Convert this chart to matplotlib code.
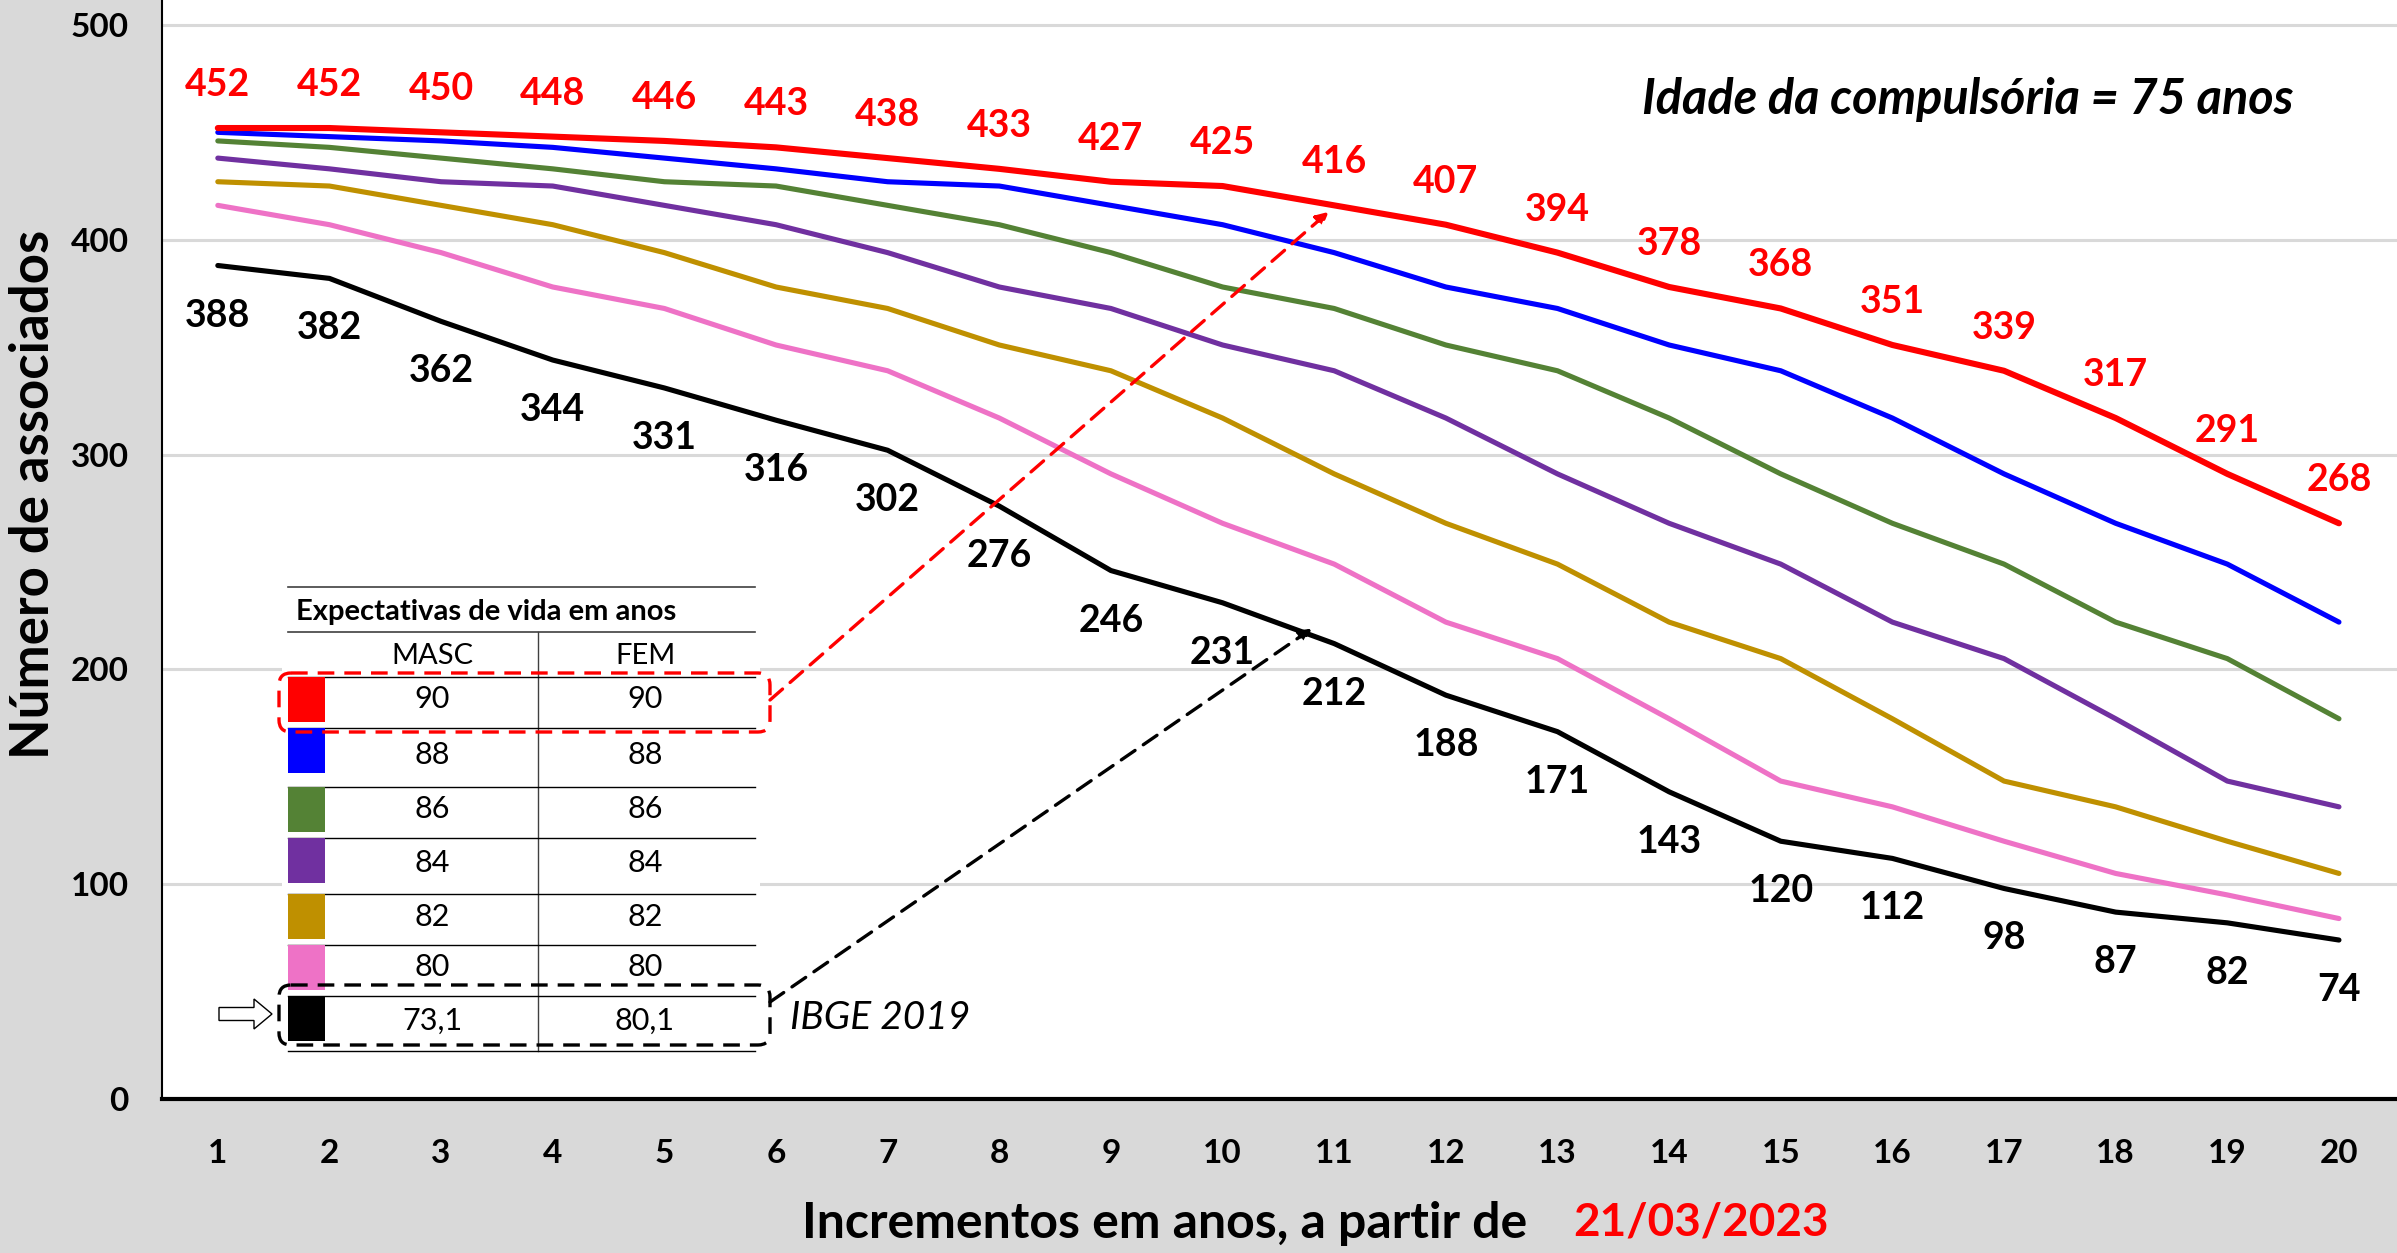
import matplotlib.pyplot as plt
import matplotlib.transforms as mtransforms
from matplotlib.patches import Rectangle, FancyBboxPatch, FancyArrow

plt.rcParams['font.family'] = ['Lato', 'DejaVu Sans']

# dados
anos = list(range(1, 21))

exp_90 = [452, 452, 450, 448, 446, 443, 438, 433, 427, 425, 416, 407, 394, 378, 368, 351, 339, 317, 291, 268]
exp_88 = [450, 448, 446, 443, 438, 433, 427, 425, 416, 407, 394, 378, 368, 351, 339, 317, 291, 268, 249, 222]
exp_86 = [446, 443, 438, 433, 427, 425, 416, 407, 394, 378, 368, 351, 339, 317, 291, 268, 249, 222, 205, 177]
exp_84 = [438, 433, 427, 425, 416, 407, 394, 378, 368, 351, 339, 317, 291, 268, 249, 222, 205, 177, 148, 136]
exp_82 = [427, 425, 416, 407, 394, 378, 368, 351, 339, 317, 291, 268, 249, 222, 205, 177, 148, 136, 120, 105]
exp_80 = [416, 407, 394, 378, 368, 351, 339, 317, 291, 268, 249, 222, 205, 177, 148, 136, 120, 105, 95, 84]
ibge_2019 = [388, 382, 362, 344, 331, 316, 302, 276, 246, 231, 212, 188, 171, 143, 120, 112, 98, 87, 82, 74]

series = [exp_90, exp_88, exp_86, exp_84, exp_82, exp_80, ibge_2019]
cores = ['#FF0000', '#0000FF', '#548235', '#7030A0', '#BF9000', '#EE72C6', '#000000']
masc = ['90', '88', '86', '84', '82', '80', '73,1']
fem = ['90', '88', '86', '84', '82', '80', '80,1']

W, H = 2397, 1253
fig = plt.figure(figsize=(W / 100, H / 100), dpi=100, facecolor='#D9D9D9')
ax = fig.add_axes([162 / W, 1 - 1099 / H, 1 - 162 / W, 1099 / H])
ax.set_facecolor('white')
# coordenadas em pixels da imagem original (origem no topo)
px = mtransforms.Affine2D().scale(1 / W, -1 / H).translate(0, 1) + fig.transFigure

# linhas, de baixo para cima
for i in reversed(range(len(series))):
    lw = 4.4 if i == 0 else 3.7
    ax.plot(anos, series[i], color=cores[i], lw=lw, zorder=3 + (7 - i) * 0.1,
            solid_capstyle='round', solid_joinstyle='round')

for x, v in zip(anos, exp_90):
    ax.annotate(str(v), (x, v), xytext=(0, 31), textcoords='offset points',
                ha='center', va='center', color='red', fontsize=27, fontweight='bold')
for x, v in zip(anos, ibge_2019):
    ax.annotate(str(v), (x, v), xytext=(0, -36), textcoords='offset points',
                ha='center', va='center', color='black', fontsize=27, fontweight='bold')

ax.set_xlim(0.5, 20.52)
ax.set_ylim(0, 511.6)
ax.set_xticks(anos)
ax.set_yticks([0, 100, 200, 300, 400, 500])
ax.tick_params(axis='x', length=0, labelsize=24, pad=29)
ax.tick_params(axis='y', length=0, labelsize=24, pad=24)
for lab in ax.get_xticklabels() + ax.get_yticklabels():
    lab.set_fontweight('bold')
ax.yaxis.grid(True, color='#D9D9D9', lw=2.2)
ax.set_axisbelow(True)
for s in ['top', 'right']:
    ax.spines[s].set_visible(False)
ax.spines['left'].set_linewidth(1.5)
ax.spines['bottom'].set_linewidth(3)

# textos
fig.text(34, 494, 'Número de associados', transform=px, rotation=90,
         ha='center', va='center', fontsize=38, fontweight='bold')
fig.text(1165, 1223, 'Incrementos em anos, a partir de', transform=px,
         ha='center', va='center', fontsize=36, fontweight='bold')
fig.text(1701, 1223, '21/03/2023', transform=px, color='red',
         ha='center', va='center', fontsize=33, fontweight='bold')
fig.text(1968, 99, 'Idade da compulsória = 75 anos', transform=px,
         ha='center', va='center', fontsize=35, fontweight='bold', style='italic')

# tabela de legenda
ax.add_patch(Rectangle((282, 575), 478, 483, transform=px, fc='white', ec='none',
                       zorder=2, clip_on=False))
lc = '#404040'
for y in [587, 632]:
    ax.plot([288, 755], [y, y], transform=px, color=lc, lw=1.2, zorder=4, clip_on=False)
ax.plot([538, 538], [632, 1051], transform=px, color=lc, lw=1, zorder=4, clip_on=False)
ax.text(296, 612, 'Expectativas de vida em anos', transform=px, ha='left', va='center',
        fontsize=21, fontweight='bold', zorder=5)
ax.text(432, 656, 'MASC', transform=px, ha='center', va='center', fontsize=21, zorder=5)
ax.text(645, 656, 'FEM', transform=px, ha='center', va='center', fontsize=21, zorder=5)

linhas = [677, 728, 787, 838, 894, 945, 996, 1051]
for y in linhas:
    ax.plot([288, 755], [y, y], transform=px, color='black', lw=1, zorder=4, clip_on=False)
for i in range(len(series)):
    top, bot = linhas[i], linhas[i + 1]
    ax.add_patch(Rectangle((288, top), 37, 45, transform=px, fc=cores[i], ec='none',
                           zorder=5, clip_on=False))
    yc = (top + bot) / 2 - 3
    ax.text(432, yc, masc[i], transform=px, ha='center', va='center', fontsize=22, zorder=5)
    ax.text(645, yc, fem[i], transform=px, ha='center', va='center', fontsize=22, zorder=5)

# caixas tracejadas
tracejado = (0, (5, 3))
for (y0, y1), c in [((673, 732), 'red'), ((985, 1045), 'black')]:
    ax.add_patch(FancyBboxPatch((279, y0), 491, y1 - y0, boxstyle='round,pad=0,rounding_size=12',
                                transform=px, fc='none', ec=c, lw=2.4, ls=tracejado,
                                zorder=6, clip_on=False))

ax.add_patch(FancyArrow(219, 1014, 53, 0, width=13, head_width=30, head_length=18,
                        length_includes_head=True, transform=px, fc='white', ec='black',
                        lw=1, zorder=6, clip_on=False))
ax.text(790, 1018, 'IBGE 2019', transform=px, ha='left', va='center', fontsize=28,
        style='italic', zorder=6)

# setas tracejadas
ax.annotate('', xy=(10.95, 413), xycoords='data', xytext=(770, 700), textcoords=px,
            arrowprops=dict(arrowstyle='-|>', ls=tracejado, color='red', lw=2.4,
                            mutation_scale=18, shrinkA=0, shrinkB=0), zorder=6)
ax.annotate('', xy=(10.8, 219), xycoords='data', xytext=(770, 1002), textcoords=px,
            arrowprops=dict(arrowstyle='-|>', ls=tracejado, color='black', lw=2.4,
                            mutation_scale=18, shrinkA=0, shrinkB=0), zorder=6)

fig.savefig('out.png', dpi=100, facecolor=fig.get_facecolor())
